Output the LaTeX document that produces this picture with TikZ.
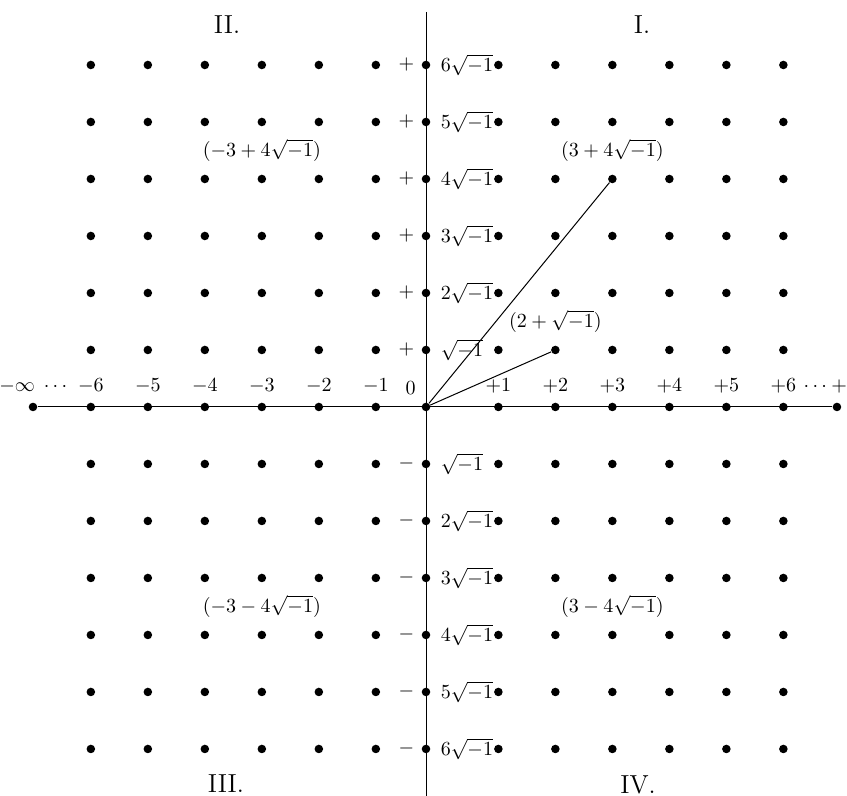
\documentclass[tikz,border=0pt]{standalone}
\usepackage{amsmath}
\usetikzlibrary{positioning}

\begin{document}
\begin{tikzpicture}[
  dot/.style={circle, fill, inner sep=0pt, minimum size=0.15cm},
  ax/.style={line width=0.5pt},
  quad/.style={font=\fontsize{13}{15}\selectfont},
]
\useasboundingbox (-7.474,-6.825) rectangle (7.386,7.140);

% Quadrant numerals
\node[quad] (qI) at (3.79,6.70) {I.};
\node[quad] (qII) at (-3.49,6.70) {II.};
\node[quad] (qIII) at (-3.51,-6.60) {III.};
\node[quad] (qIV) at (3.72,-6.63) {IV.};

% Axes
\coordinate (top) at (0,6.93);
\coordinate (bot) at (0,-6.9);
\node[dot] (minf) at (-6.895,0) {};
\node[dot] (pinf) at (7.21,0) {};
\draw[ax] (top) -- (bot);
\draw[ax] (minf) -- (pinf);

% Lattice points (right half set a little wider)
\foreach \x in {-6,-5,-4,-3,-2,-1,1,2,3,4,5,6} {
  \pgfmathsetmacro\u{\x+0.12*(\x<0)+0.27*(\x>0)}
  \foreach \y in {-6,...,6}
    \node[dot] (p\x q\y) at (\u,\y) {};
}
\foreach \y in {-6,...,6}
  \node[dot] (p0q\y) at (0,\y) {};

% Real axis labels
\foreach \x in {-6,...,-1}
  \node[above=1pt of p\x q0] (l\x) {$\x$};
\foreach \x in {1,...,6}
  \node[above=1pt of p\x q0] (l\x) {$+\x$};
\node[above left=1pt and 0pt of p0q0] (l0) {$0$};
\node[anchor=base east, inner sep=0pt] (lminf) at (l-6.base west) {$-\infty\;\cdots$};
\node[anchor=base west, inner sep=0pt] (lpinf) at (l6.base east) {$\cdots+\infty$};

% Imaginary axis labels
\foreach \y/\c in {1/{},2/2,3/3,4/4,5/5,6/6} {
  \node[left=0pt of p0q\y] {$+$};
  \node[right=1.5pt of p0q\y] {$\c\sqrt{-1}$};
}
\foreach \y/\c in {-1/{},-2/2,-3/3,-4/4,-5/5,-6/6} {
  \node[left=0pt of p0q\y] {$-$};
  \node[right=1.5pt of p0q\y] {$\c\sqrt{-1}$};
}

% Vectors
\draw[ax] (p0q0) -- (p3q4);
\draw[ax] (p0q0) -- (p2q1);

% Point labels
\node[above=3pt of p3q4] (a1) {$(3+4\sqrt{-1})$};
\node[above=3pt of p2q1] (a2) {$(2+\sqrt{-1})$};
\node[above=3pt of p-3q4] (a3) {$(-3+4\sqrt{-1})$};
\node[above=3pt of p-3q-4] (a4) {$(-3-4\sqrt{-1})$};
\node[above=3pt of p3q-4] (a5) {$(3-4\sqrt{-1})$};

\end{tikzpicture}
\end{document}
